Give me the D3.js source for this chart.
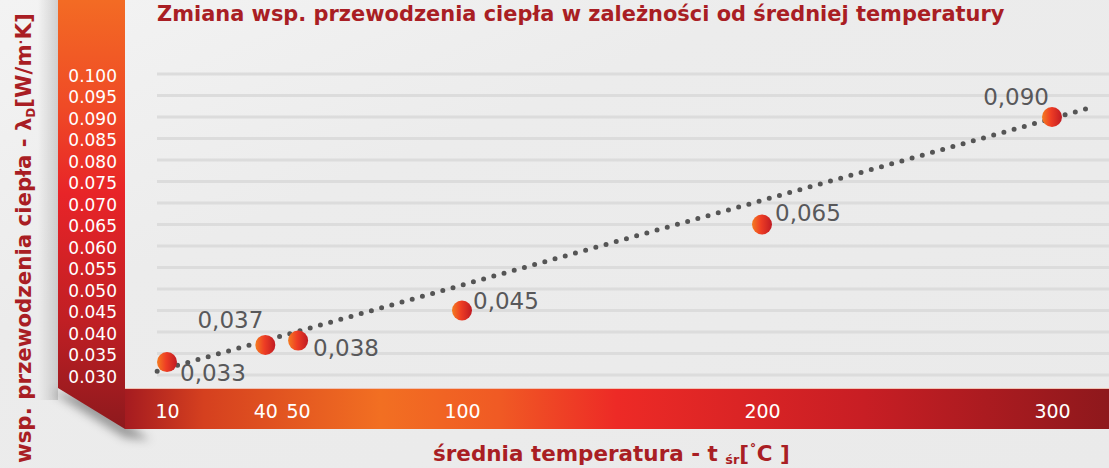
<!DOCTYPE html>
<html>
<head>
<meta charset="utf-8">
<script src="https://cdn.jsdelivr.net/npm/d3@7"></script>
<style>
  body { margin: 0; background: #ebebeb; }
  svg { display: block; }
</style>
</head>
<body>
<div id="chart"></div>
<script>
// 1. DATA ---------------------------------------------------------------------
const temps   = [10, 40, 50, 100, 200, 300]              // średnia temperatura [°C]
const lambdas = [0.033, 0.037, 0.038, 0.045, 0.065, 0.090] // λD [W/m·K]
const xTicks  = [10, 40, 50, 100, 200, 300]
const yTicks  = [0.030, 0.035, 0.040, 0.045, 0.050, 0.055, 0.060, 0.065,
                 0.070, 0.075, 0.080, 0.085, 0.090, 0.095, 0.100]
// dotted trend line, start and end
const trendT  = [7, 314]
const trendL  = [0.0309, 0.0923]

const titleText = "Zmiana wsp. przewodzenia ciepła w zależności od średniej temperatury"

// 2. LAYOUT -------------------------------------------------------------------
const width = 1109,
      height = 468,
      darkRed = "#a91e24",
      labelGrey = "#58585a",
      font = "'DejaVu Sans', sans-serif"

// label offsets from point centre: [dx, dy, anchor]
const labelPlace = {
  10:  [13, 19, "start"],
  40:  [-2, -17, "end"],
  50:  [15, 15, "start"],
  100: [11, -2, "start"],
  200: [13, -4, "start"],
  300: [-3, -12, "end"]
}

const x = d3.scaleLinear().domain([10, 100, 200, 300]).range([167, 462, 762, 1052])
const y = d3.scaleLinear().domain([0.030, 0.100]).range([375, 74])

const svg = d3.select("#chart").append("svg")
  .attr("width", width)
  .attr("height", height)
  .style("font-family", font)

const defs = svg.append("defs")

const grad = (id, x2, y2, stops) => {
  const g = defs.append("linearGradient").attr("id", id)
    .attr("x1", 0).attr("y1", 0).attr("x2", x2).attr("y2", y2)
  stops.forEach(([o, c]) => g.append("stop").attr("offset", o).attr("stop-color", c))
}
grad("bg", 1, 1, [[0, "#f3f3f3"], [0.35, "#ececec"], [1, "#eaeaea"]])
grad("vband", 0, 1, [[0, "#f36b24"], [0.25, "#ef4a26"], [0.45, "#e82428"], [0.75, "#c01f24"], [1, "#8d191d"]])
grad("hband", 1, 0, [[0, "#a51b20"], [0.08, "#d5401f"], [0.26, "#f26f22"], [0.38, "#f05a24"], [0.5, "#ed2a26"], [0.75, "#c81e24"], [1, "#8e181c"]])
grad("dot", 1, 0, [[0, "#f47c20"], [0.45, "#ee3d24"], [1, "#c01b23"]])
grad("leftShade", 1, 0, [[0, "rgba(0,0,0,0)"], [1, "rgba(0,0,0,0.14)"]])

defs.append("filter").attr("id", "blur")
  .attr("x", "-50%").attr("y", "-50%").attr("width", "200%").attr("height", "200%")
  .append("feGaussianBlur").attr("stdDeviation", 5)

// 3. BACKGROUND AND BANDS -----------------------------------------------------
svg.append("rect").attr("width", width).attr("height", height).attr("fill", "url(#bg)")

// grid lines
svg.append("g").selectAll("line")
  .data(yTicks)
  .join("line")
  .attr("x1", 157).attr("x2", width)
  .attr("y1", d => y(d)).attr("y2", d => y(d))
  .attr("stroke", "#dcdcdc")
  .attr("stroke-width", 3)

// shadows of the folded band
svg.append("rect").attr("x", 38).attr("y", 0).attr("width", 20).attr("height", 400)
  .attr("fill", "url(#leftShade)")
svg.append("polygon")
  .attr("points", "52,392 125,438 150,440 90,396")
  .attr("fill", "rgba(0,0,0,0.35)")
  .attr("filter", "url(#blur)")

// vertical band with fold
svg.append("polygon")
  .attr("points", "58,0 125,0 125,429 58,388")
  .attr("fill", "url(#vband)")

// horizontal band
svg.append("line").attr("x1", 125).attr("x2", width).attr("y1", 388.5).attr("y2", 388.5)
  .attr("stroke", "#efc3b4").attr("stroke-width", 1)
svg.append("rect")
  .attr("x", 125).attr("y", 389).attr("width", width - 125).attr("height", 40)
  .attr("fill", "url(#hband)")

// 4. AXES ---------------------------------------------------------------------
const yAxis = d3.axisLeft(y).tickValues(yTicks).tickFormat(d3.format(".3f")).tickSize(0).tickPadding(0)
svg.append("g")
  .attr("transform", "translate(117,2)")
  .call(yAxis)
  .call(g => g.select(".domain").remove())
  .selectAll("text")
  .attr("fill", "#fff")
  .style("font-size", "17px")
  .style("font-family", font)

const xAxis = d3.axisBottom(x).tickValues(xTicks).tickFormat(d3.format("d")).tickSize(0).tickPadding(0)
svg.append("g")
  .attr("transform", "translate(0,404)")
  .call(xAxis)
  .call(g => g.select(".domain").remove())
  .selectAll("text")
  .attr("fill", "#fff")
  .style("font-size", "19px")
  .style("font-family", font)

// 5. TREND LINE AND POINTS ----------------------------------------------------
svg.append("line")
  .attr("x1", x(trendT[0])).attr("y1", y(trendL[0]))
  .attr("x2", x(trendT[1])).attr("y2", y(trendL[1]))
  .attr("stroke", "#555")
  .attr("stroke-width", 5)
  .attr("stroke-linecap", "round")
  .attr("stroke-dasharray", "0 10.6")

const points = temps.map((t, i) => ({ t, v: lambdas[i] }))
const fmt = v => d3.format(".3f")(v).replace(".", ",")

svg.append("g").selectAll("circle")
  .data(points)
  .join("circle")
  .attr("cx", d => x(d.t))
  .attr("cy", d => y(d.v))
  .attr("r", 10)
  .attr("fill", "url(#dot)")

svg.append("g").selectAll("text")
  .data(points)
  .join("text")
  .attr("x", d => x(d.t) + labelPlace[d.t][0])
  .attr("y", d => y(d.v) + labelPlace[d.t][1])
  .attr("text-anchor", d => labelPlace[d.t][2])
  .attr("fill", labelGrey)
  .style("font-size", "23px")
  .text(d => fmt(d.v))

// 6. TITLES -------------------------------------------------------------------
const fitWidth = (sel, target) => {
  const size = parseFloat(sel.style("font-size"))
  const w = sel.node().getComputedTextLength()
  sel.style("font-size", (size * target / w) + "px")
}

svg.append("text")
  .attr("x", 157).attr("y", 21)
  .attr("fill", darkRed)
  .style("font-weight", "bold")
  .style("font-size", "24px")
  .text(titleText)
  .call(fitWidth, 848)

const yTitle = svg.append("text")
  .attr("transform", "translate(31,463) rotate(-90)")
  .attr("fill", darkRed)
  .style("font-weight", "bold")
  .style("font-size", "22px")
yTitle.append("tspan").text("wsp. przewodzenia ciepła - λ")
yTitle.append("tspan").attr("dy", 4).style("font-size", "0.55em").text("D")
yTitle.append("tspan").attr("dy", -4).text("[W/m")
yTitle.append("tspan").attr("dy", -6).style("font-size", "0.6em").text("·")
yTitle.append("tspan").attr("dy", 6).text("K]")
yTitle.call(fitWidth, 450)

const xTitle = svg.append("text")
  .attr("x", 433).attr("y", 461)
  .attr("fill", darkRed)
  .style("font-weight", "bold")
  .style("font-size", "22px")
xTitle.append("tspan").text("średnia temperatura - t ")
xTitle.append("tspan").attr("dy", 3).style("font-size", "0.6em").text("śr")
xTitle.append("tspan").attr("dy", -3).text("[")
xTitle.append("tspan").attr("dy", -4).style("font-size", "0.7em").text("˚")
xTitle.append("tspan").attr("dy", 4).text("C ]")
xTitle.call(fitWidth, 357)
</script>
</body>
</html>
